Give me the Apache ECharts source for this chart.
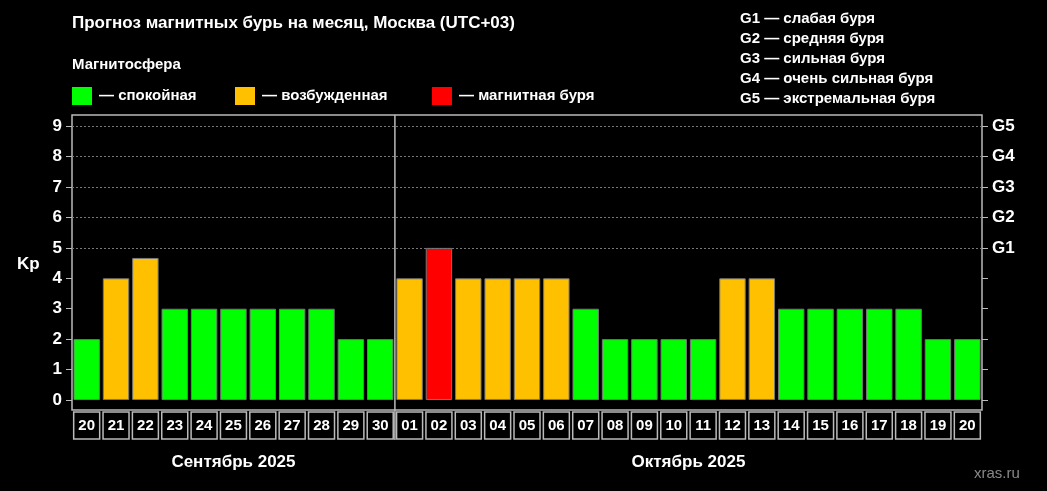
<!DOCTYPE html>
<html><head><meta charset="utf-8">
<script src="https://cdn.jsdelivr.net/npm/echarts@6/dist/echarts.min.js"></script>
<style>html,body{margin:0;background:#000}#c{width:1047px;height:491px}</style>
</head><body><div id="c"></div>
<script>
var days = ['20','21','22','23','24','25','26','27','28','29','30',
  '01','02','03','04','05','06','07','08','09','10','11','12','13','14','15','16','17','18','19','20'];
var kp = [2,4,4.67,3,3,3,3,3,3,2,2, 4,5,4,4,4,4,3,2,2,2,2,4,4,3,3,3,3,3,2,2];
var kpTicks = [0,1,2,3,4,5,6,7,8,9];
var gTicks = ['G1','G2','G3','G4','G5'];
var months = ['Сентябрь 2025', 'Октябрь 2025'];
var gLegend = ['G1 — слабая буря','G2 — средняя буря','G3 — сильная буря','G4 — очень сильная буря','G5 — экстремальная буря'];

function colorOf(v) {
    if (v >= 5) return '#ff0000';
    if (v >= 4) return '#ffc000';
    return '#00ff00';
}

var font = 'Liberation Sans';
var chart = echarts.init(document.getElementById('c'));
var legendItems = [];
[['#00ff00','— спокойная',72],['#ffc000','— возбужденная',235],['#ff0000','— магнитная буря',432]].forEach(function (it) {
    legendItems.push({type:'rect', left: it[2], top: 87, shape:{width:20,height:18}, style:{fill:it[0]}});
    legendItems.push({type:'text', left: it[2]+27, top: 88, style:{text:it[1], fill:'#fff', font:'bold 15px ' + font}});
});
gLegend.forEach(function (t, i) {
    legendItems.push({type:'text', left: 740, top: 11 + i*20, style:{text:t, fill:'#fff', font:'bold 15px ' + font}});
});
legendItems.push({type:'text', left: 72, top: 15, style:{text:'Прогноз магнитных бурь на месяц, Москва (UTC+03)', fill:'#fff', font:'bold 17px ' + font}});
legendItems.push({type:'text', left: 72, top: 57, style:{text:'Магнитосфера', fill:'#fff', font:'bold 15px ' + font}});
legendItems.push({type:'text', left: 17, top: 256, style:{text:'Kp', fill:'#fff', font:'bold 17px ' + font}});
legendItems.push({type:'text', left: 974, top: 466, style:{text:'xras.ru', fill:'#888', font:'15px ' + font}});

chart.setOption({
    backgroundColor: '#000',
    animation: false,
    grid: {left: 72, right: 65, top: 115, bottom: 81, show: true, borderColor: '#bbb', borderWidth: 1.5},
    xAxis: {
        type: 'category', data: days,
        axisLine: {show: false}, axisTick: {show: false},
        axisLabel: {
            interval: 0, margin: 2, color: '#fff', fontFamily: font, fontWeight: 'bold', fontSize: 15,
            width: 26, height: 27, lineHeight: 27, align: 'center', borderColor: '#bbb', borderWidth: 1.5
        }
    },
    yAxis: [{
        type: 'value', min: -0.33, max: 9.37,
        axisLine: {show: false},
        axisTick: {show: true, length: 6, lineStyle: {color: '#bbb'}, customValues: kpTicks},
        axisLabel: {color: '#fff', fontFamily: font, fontWeight: 'bold', fontSize: 17, margin: 10, customValues: kpTicks},
        splitLine: {show: false}
    }, {
        type: 'value', min: -0.33, max: 9.37, position: 'right',
        axisLine: {show: false},
        axisTick: {show: true, length: 6, lineStyle: {color: '#bbb'}, customValues: kpTicks},
        axisLabel: {color: '#fff', fontFamily: font, fontWeight: 'bold', fontSize: 17, margin: 10,
            customValues: [5,6,7,8,9], formatter: function (v) { return gTicks[Math.round(v) - 5]; }},
        splitLine: {show: false}
    }],
    series: [{
        type: 'bar', barCategoryGap: '10%',
        data: kp.map(function (v) { return {value: v, itemStyle: {color: colorOf(v)}}; }),
        itemStyle: {borderColor: '#777', borderWidth: 1},
        markLine: {
            silent: true, symbol: 'none', label: {show: false},
            lineStyle: {color: '#777', type: [2, 2], width: 1},
            data: [5,6,7,8,9].map(function (v) { return {yAxis: v}; })
        }
    }],
    graphic: legendItems
});

// month divider and month names positioned from the axis
var a = chart.convertToPixel({xAxisIndex: 0}, 10);
var b = chart.convertToPixel({xAxisIndex: 0}, 11);
var mid = (a + b) / 2;
var s0 = chart.convertToPixel({xAxisIndex: 0}, 0);
var e1 = chart.convertToPixel({xAxisIndex: 0}, days.length - 1);
legendItems.push({type:'line', shape:{x1: mid, y1: 115, x2: mid, y2: 440}, style:{stroke:'#bbb', lineWidth: 1.5}});
legendItems.push({type:'text', x: (s0 + a) / 2, y: 454, style:{text: months[0], fill:'#fff', font:'bold 17px ' + font, align:'center'}});
legendItems.push({type:'text', x: (b + e1) / 2, y: 454, style:{text: months[1], fill:'#fff', font:'bold 17px ' + font, align:'center'}});
chart.setOption({graphic: legendItems});
</script></body></html>
